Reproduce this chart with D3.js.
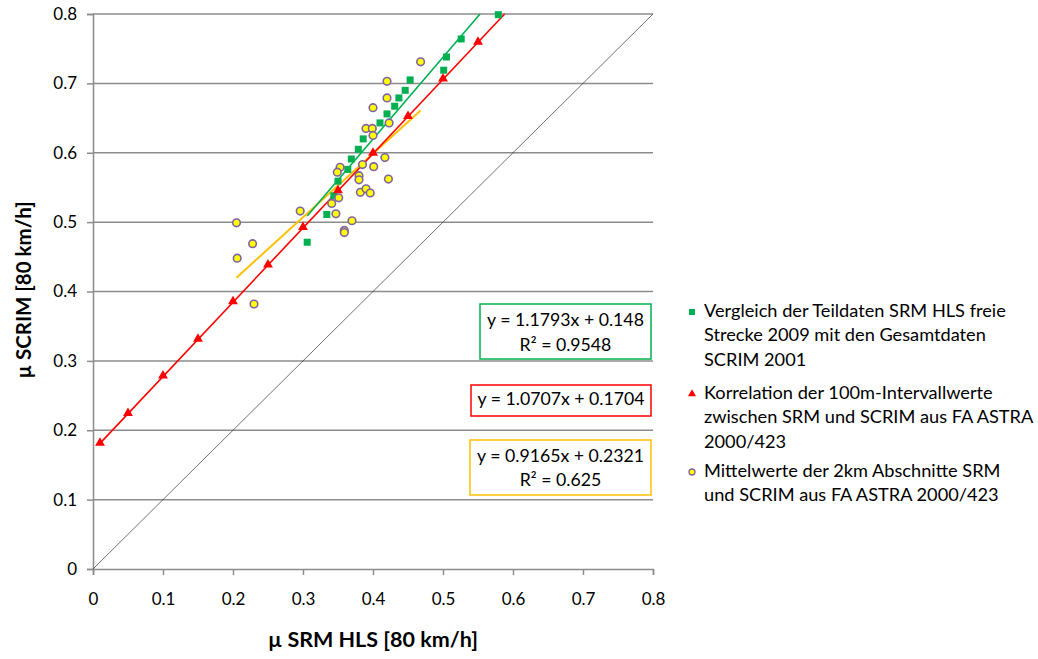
<!DOCTYPE html>
<html><head><meta charset="utf-8">
<script src="https://cdn.jsdelivr.net/npm/d3@7"></script>
<style>
body{margin:0;background:#fff;}
svg text{font-family:"Lato","Liberation Sans",sans-serif;fill:#000;}
</style></head>
<body><svg id="c" width="1038" height="659"></svg>
<script>
// ---- data ----
const yTicks = [0,0.1,0.2,0.3,0.4,0.5,0.6,0.7,0.8];
const xTicks = [0,0.1,0.2,0.3,0.4,0.5,0.6,0.7,0.8];
const greenX = [0.306,0.334,0.344,0.350,0.364,0.369,0.379,0.386,0.410,0.420,0.431,0.437,0.446,0.453,0.501,0.505,0.526,0.579];
const greenY = [0.471,0.511,0.538,0.559,0.576,0.591,0.605,0.620,0.643,0.656,0.667,0.679,0.690,0.705,0.719,0.738,0.764,0.799];
const redX = [0.01,0.05,0.10,0.15,0.20,0.25,0.30,0.35,0.40,0.45,0.50,0.55];
const redY = [0.181,0.224,0.278,0.331,0.385,0.438,0.492,0.545,0.599,0.652,0.706,0.759];
const yellowX = [0.205,0.228,0.206,0.230,0.296,0.353,0.349,0.341,0.351,0.347,0.370,0.359,0.359,0.380,0.380,0.382,0.390,0.396,0.385,0.401,0.417,0.422,0.390,0.399,0.400,0.423,0.400,0.420,0.420,0.468];
const yellowY = [0.499,0.469,0.448,0.382,0.516,0.579,0.572,0.527,0.535,0.512,0.502,0.488,0.485,0.567,0.561,0.543,0.548,0.542,0.583,0.580,0.593,0.562,0.635,0.635,0.625,0.643,0.665,0.679,0.703,0.731];
// trendlines: slope, intercept, x-range
const greenFit = {m:1.1793, b:0.148, x0:0.306, x1:0.579};
const redFit = {m:1.0707, b:0.1704, x0:0.01, x1:0.60};
const yellowFit = {m:0.9165, b:0.2321, x0:0.205, x1:0.468};
const eqGreen = ["y = 1.1793x + 0.148","R² = 0.9548"];
const eqRed = ["y = 1.0707x + 0.1704"];
const eqYellow = ["y = 0.9165x + 0.2321","R² = 0.625"];
const legendLabels = [
  ["Vergleich der Teildaten SRM HLS freie","Strecke 2009 mit den Gesamtdaten","SCRIM 2001"],
  ["Korrelation der 100m-Intervallwerte","zwischen SRM und SCRIM aus FA ASTRA","2000/423"],
  ["Mittelwerte der 2km Abschnitte SRM","und SCRIM aus FA ASTRA 2000/423"]
];
const xTitle = "µ SRM HLS [80 km/h]";
const yTitle = "µ SCRIM [80 km/h]";

const GREEN="#00B050", RED="#FF0000", YEL="#FFFF00", YSTROKE="#8064A2", ORANGE="#FFC000", GRID="#8c8c8c";

const svg = d3.select("#c");
const L=93, R=653, T=14, B=569;
const x = d3.scaleLinear().domain([0,0.8]).range([L,R]);
const y = d3.scaleLinear().domain([0,0.8]).range([B,T]);

// gridlines
svg.append("g").selectAll("line").data(yTicks.filter(d=>d>0)).join("line")
  .attr("x1",L).attr("x2",R).attr("y1",d=>y(d)).attr("y2",d=>y(d))
  .attr("stroke",GRID).attr("stroke-width",1.5);

// axes
const ya = svg.append("g").attr("transform",`translate(${L},0)`)
  .call(d3.axisLeft(y).tickValues(yTicks).tickFormat(d=>d===0?"0":d3.format(".1f")(d)).tickSize(6).tickPadding(10));
const xa = svg.append("g").attr("transform",`translate(0,${B})`)
  .call(d3.axisBottom(x).tickValues(xTicks).tickFormat(d=>d===0?"0":d3.format(".1f")(d)).tickSize(6).tickPadding(18));
[ya,xa].forEach(a=>{
  a.select(".domain").attr("stroke",GRID).attr("stroke-width",1.5);
  a.selectAll(".tick line").attr("stroke",GRID).attr("stroke-width",1.5);
  a.selectAll(".tick text").attr("font-size",17).attr("font-family","Lato, Liberation Sans, sans-serif").attr("fill","#000");
});

// diagonal
svg.append("line").attr("x1",x(0)).attr("y1",y(0)).attr("x2",x(0.8)).attr("y2",y(0.8))
  .attr("stroke","#333").attr("stroke-width",0.7);

// trend lines
function fitLine(f,color,w){
  let x1=f.x1, y1=f.m*x1+f.b;
  if(y1>0.8){x1=(0.8-f.b)/f.m; y1=0.8;}
  svg.append("line").attr("x1",x(f.x0)).attr("y1",y(f.m*f.x0+f.b)).attr("x2",x(x1)).attr("y2",y(y1))
    .attr("stroke",color).attr("stroke-width",w);
}
fitLine(yellowFit,ORANGE,2);
fitLine(greenFit,GREEN,1.6);
fitLine(redFit,RED,1.6);

// green squares
svg.append("g").selectAll("rect").data(greenX).join("rect")
  .attr("x",(d)=>x(d)-3.5).attr("y",(d,i)=>y(greenY[i])-3.5).attr("width",7).attr("height",7).attr("fill",GREEN);
// red triangles
const tri = d3.symbol().type(d3.symbolTriangle).size(42);
svg.append("g").selectAll("path").data(redX).join("path")
  .attr("d",tri).attr("transform",(d,i)=>`translate(${x(d)},${y(redY[i])-0.5})`).attr("fill",RED);
// yellow circles
svg.append("g").selectAll("circle").data(yellowX).join("circle")
  .attr("cx",d=>x(d)).attr("cy",(d,i)=>y(yellowY[i])).attr("r",3.8)
  .attr("fill",YEL).attr("stroke",YSTROKE).attr("stroke-width",1.6);

// equation boxes
function eqBox(lines,color,x0,y0,x1,y1,ys){
  svg.append("rect").attr("x",x0).attr("y",y0).attr("width",x1-x0).attr("height",y1-y0)
    .attr("fill","#fff").attr("stroke",color).attr("stroke-width",1.5);
  lines.forEach((t,i)=>svg.append("text").attr("x",(x0+x1)/2).attr("y",ys[i]).attr("text-anchor","middle")
    .attr("dominant-baseline","middle").attr("font-size",17.7).text(t));
}
eqBox(eqGreen,GREEN,480,304,651,359,[322,347]);
eqBox(eqRed,RED,471,385,651,416,[401]);
eqBox(eqYellow,ORANGE,470,440,651,495,[458,482]);

// axis titles
svg.append("text").attr("x",373).attr("y",641).attr("text-anchor","middle").attr("dominant-baseline","middle")
  .attr("font-size",21.5).attr("font-weight","bold").text(xTitle);
svg.append("text").attr("transform","translate(26,290) rotate(-90)").attr("text-anchor","middle").attr("dominant-baseline","middle")
  .attr("font-size",20.5).attr("font-weight","bold").text(yTitle);

// legend
const legY = [312,394,472];
const lg = svg.append("g");
legendLabels.forEach((lines,k)=>{
  lines.forEach((t,i)=>lg.append("text").attr("x",704).attr("y",legY[k]+i*24.5).attr("dominant-baseline","middle")
    .attr("font-size",18.2).text(t));
});
lg.append("rect").attr("x",689).attr("y",legY[0]-3).attr("width",6).attr("height",6).attr("fill",GREEN);
lg.append("path").attr("d",d3.symbol().type(d3.symbolTriangle).size(28)).attr("transform",`translate(692,${legY[1]})`).attr("fill",RED);
lg.append("circle").attr("cx",692).attr("cy",legY[2]).attr("r",3).attr("fill",YEL).attr("stroke",YSTROKE).attr("stroke-width",1.3);
</script></body></html>
